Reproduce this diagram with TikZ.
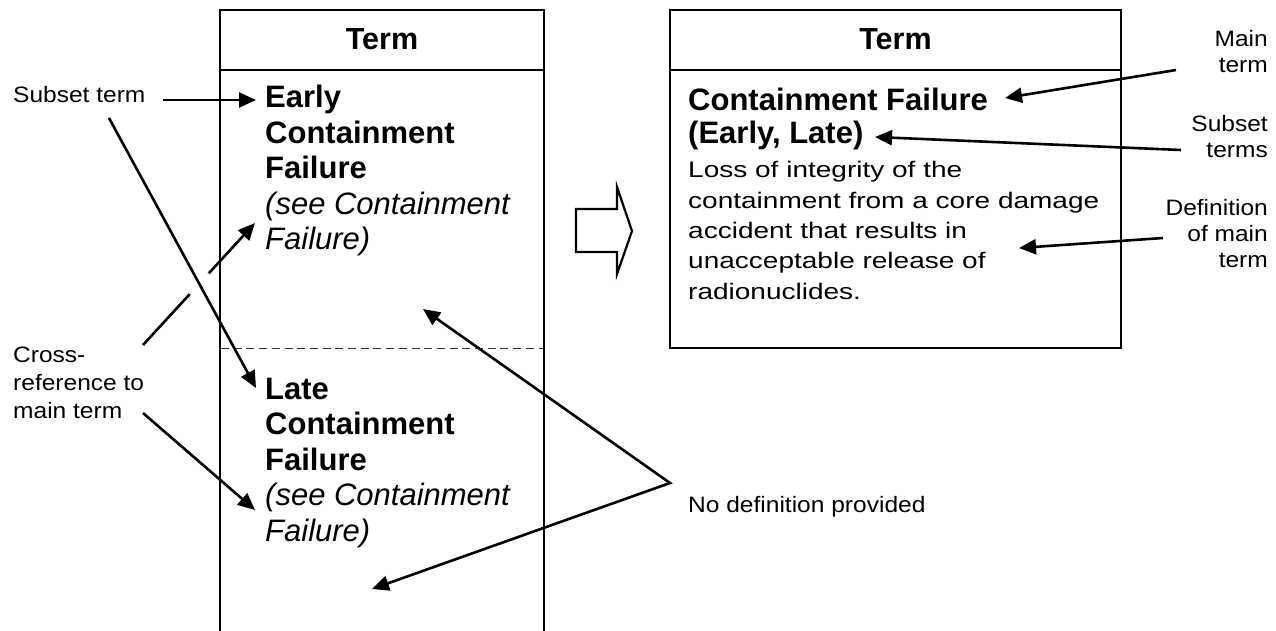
\documentclass[tikz,border=0pt]{standalone}
\usepackage{fontspec}
\setmainfont{Liberation Sans}
\newfontfamily\deffont[FakeStretch=1.245]{Liberation Sans}
\newfontfamily\lblfont[FakeStretch=1.1]{Liberation Sans}
\usetikzlibrary{arrows.meta}

% stacked lines with a fixed baseline distance; the baseline of the stack is its first line
\newcommand\lstack[2]{\vtop{\baselineskip=#1\relax\halign{##\hfil\cr#2\crcr}}}
\newcommand\rstack[2]{\vtop{\baselineskip=#1\relax\halign{\hfil##\cr#2\crcr}}}

\tikzset{
  frame/.style={line width=2.7pt},
  sepline/.style={line width=1pt, black!80, dash pattern=on 8pt off 4.7pt},
  hdr/.style={font=\fontsize{30.5}{34}\selectfont\bfseries, inner sep=0pt, anchor=base},
  entry/.style={font=\fontsize{31}{35.5}\selectfont, inner sep=0pt, anchor=base west},
  defn/.style={font=\deffont\fontsize{22.5}{30.3}\selectfont, inner sep=0pt, anchor=base west},
  lbl/.style={font=\lblfont\fontsize{22.3}{28}\selectfont, inner sep=0pt, anchor=base west},
  lblR/.style={font=\lblfont\fontsize{22.3}{26}\selectfont, inner sep=0pt, anchor=base east},
  tip/.tip={Triangle[length=17pt,width=15pt]},
  pointer/.style={line width=2.6pt, -tip},
  bigarrow/.style={line width=2.2pt, line join=miter}
}

\begin{document}
\begin{tikzpicture}[x=1pt,y=-1pt]
\useasboundingbox[fill=white] (0,0) rectangle (1276,631);

% left table: open at the bottom, two entries split by a dashed rule
\draw[frame] (220,631) -- (220,10) -- (544,10) -- (544,631);
\draw[frame] (220,70) -- (544,70);
\draw[sepline] (221,348) -- (543,348);
\node[hdr] (hdrL) at (382,50) {Term};

\node[entry] (early) at (265,108) {\lstack{35.5pt}{%
  {\bfseries Early}\cr
  {\bfseries Containment}\cr
  {\bfseries Failure}\cr
  {\itshape (see Containment}\cr
  {\itshape Failure)}}};

\node[entry] (late) at (265,399) {\lstack{35.5pt}{%
  {\bfseries Late}\cr
  {\bfseries Containment}\cr
  {\bfseries Failure}\cr
  {\itshape (see Containment}\cr
  {\itshape Failure)}}};

% hollow arrow between the two tables
\draw[bigarrow] (576,209) -- (617,209) -- (617,187) -- (632,231)
  -- (617,274) -- (617,252) -- (576,252) -- cycle;

% right table: the main entry
\draw[frame] (670,10) rectangle (1121,348);
\draw[frame] (670,70) -- (1121,70);
\node[hdr] (hdrR) at (895.5,50) {Term};

\node[entry, font=\fontsize{31}{32.3}\selectfont\bfseries] (mainterm) at (688,111)
  {\lstack{32.3pt}{Containment Failure\cr(Early, Late)}};

\node[defn] (definition) at (688,178) {\lstack{30.3pt}{%
  Loss of integrity of the\cr
  containment from a core damage\cr
  accident that results in\cr
  unacceptable release of\cr
  radionuclides.}};

% callout labels
\node[lbl] (lSubset) at (13,103) {Subset term};
\node[lbl] (lCross) at (13,362) {\lstack{28pt}{Cross-\cr reference to\cr main term}};
\node[lbl] (lNone) at (688,512) {No definition provided};
\node[lblR] (lMain) at (1268,47) {\rstack{25.5pt}{Main\cr term}};
\node[lblR] (lSubs) at (1268,132) {\rstack{25.5pt}{Subset\cr terms}};
\node[lblR] (lDef) at (1268,215) {\rstack{26pt}{Definition\cr of main\cr term}};

% callout end points
\coordinate (s1a) at (163,100);  \coordinate (s1b) at (256,100);
\coordinate (s2a) at (109,118);  \coordinate (s2b) at (256,388);
\coordinate (c1a) at (143,345);  \coordinate (c1b) at (255,223);
\coordinate (c2a) at (143,413);  \coordinate (c2b) at (255,510);
\coordinate (nv)  at (670,483);
\coordinate (n1)  at (423,309);  \coordinate (n2)  at (372,589);
\coordinate (m1a) at (1176,70);  \coordinate (m1b) at (1005,98);
\coordinate (m2a) at (1181,150); \coordinate (m2b) at (875,137);
\coordinate (m3a) at (1163,238); \coordinate (m3b) at (1019,248);

% callouts (the cross-reference line is broken where the subset line passes over it)
\draw[pointer] (c1a) -- (c1b);
\fill[white] (intersection of s2a--s2b and c1a--c1b) circle[radius=14pt];
\draw[pointer] (s1a) -- (s1b);
\draw[pointer] (s2a) -- (s2b);
\draw[pointer] (c2a) -- (c2b);
\draw[line width=2.6pt, tip-tip, line join=miter] (n1) -- (nv) -- (n2);
\draw[pointer] (m1a) -- (m1b);
\draw[pointer] (m2a) -- (m2b);
\draw[pointer] (m3a) -- (m3b);
\end{tikzpicture}
\end{document}
